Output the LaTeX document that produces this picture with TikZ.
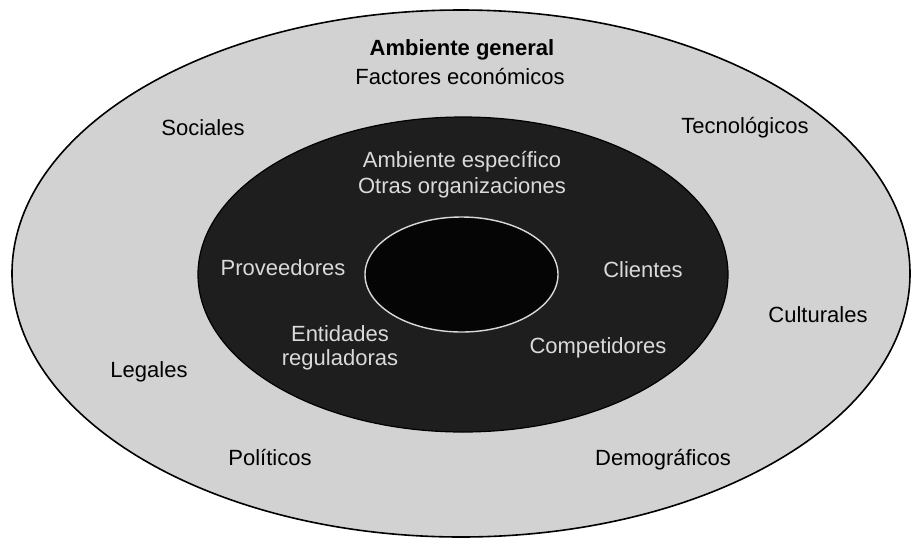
\documentclass[tikz,border=0pt]{standalone}
\usepackage{fontspec}
\setmainfont{Liberation Sans}
\definecolor{outerfill}{HTML}{D2D2D2}
\definecolor{midfill}{HTML}{1E1E1E}
\definecolor{innerfill}{HTML}{050505}
\definecolor{darktext}{HTML}{DADADA}
\begin{document}
\begin{tikzpicture}[x=1pt,y=-1pt,
  lbl/.style={inner sep=0pt, font=\fontsize{22}{26}\selectfont, text=black},
  dlbl/.style={inner sep=0pt, font=\fontsize{22}{26}\selectfont, text=darktext, align=center},
  ttl/.style={inner sep=0pt, font=\fontsize{22}{26}\selectfont\bfseries, text=black}]
\useasboundingbox (0,0) rectangle (914,542);
\fill[white] (0,0) rectangle (914,542);
% outer ellipse
\draw[line width=1.6pt, fill=outerfill] (461,273.5) ellipse [x radius=449, y radius=263.5];
% middle ellipse
\draw[line width=1.2pt, fill=midfill] (463,274.5) ellipse [x radius=265, y radius=157.5];
% inner ellipse
\draw[line width=1.4pt, draw=white!85!black, fill=innerfill] (461.5,274.5) ellipse [x radius=96.5, y radius=57.5];
% labels
\node[ttl] (ag) at (462,50) {Ambiente general};
\node[lbl] (fe) at (460,77) {Factores económicos};
\node[lbl] (so) at (203,128) {Sociales};
\node[lbl] (te) at (745,128) {Tecnológicos};
\node[lbl] (cu) at (818,315) {Culturales};
\node[lbl] (le) at (149,372) {Legales};
\node[lbl] (po) at (270,457) {Políticos};
\node[lbl] (de) at (663,460) {Demográficos};
\node[dlbl] (ae) at (462,162) {Ambiente específico};
\node[dlbl] (oo) at (462,188) {Otras organizaciones};
\node[dlbl] (pr) at (283,268) {Proveedores};
\node[dlbl] (cl) at (643,270) {Clientes};
\node[dlbl] (co) at (598,348) {Competidores};
\node[dlbl] (er) at (340,348) {Entidades\\[-2pt]reguladoras};
\end{tikzpicture}
\end{document}
